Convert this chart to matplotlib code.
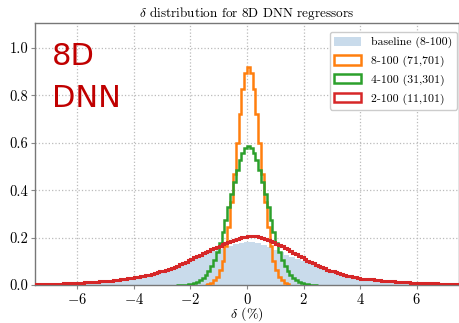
import numpy as np
import matplotlib
matplotlib.use("Agg")
import matplotlib.pyplot as plt
from matplotlib.patches import Patch

plt.rcParams['font.family'] = 'cmr10'
plt.rcParams['mathtext.fontset'] = 'cm'
plt.rcParams['axes.formatter.use_mathtext'] = True

# ---------------- data (density histograms) ----------------
# orange: 8-100 (71,701), bins of 0.1 from -1.5 to 1.5
orange_edges = np.round(np.linspace(-1.5, 1.5, 31), 2)
orange_vals = [0.002, 0.005, 0.010, 0.019, 0.035, 0.062, 0.103, 0.163, 0.245, 0.348,
               0.468, 0.597, 0.722, 0.826, 0.895, 0.920, 0.895, 0.826, 0.722, 0.597,
               0.468, 0.348, 0.245, 0.163, 0.103, 0.062, 0.035, 0.019, 0.010, 0.005]

# green: 4-100 (31,301), bins of 0.1 from -2.5 to 2.5
green_edges = np.round(np.linspace(-2.5, 2.5, 51), 2)
green_vals = [0.0004, 0.0007, 0.001, 0.002, 0.003, 0.005, 0.008, 0.013, 0.019, 0.028,
              0.041, 0.058, 0.079, 0.106, 0.140, 0.179, 0.224, 0.274, 0.327, 0.382,
              0.435, 0.484, 0.526, 0.558, 0.578, 0.585, 0.578, 0.558, 0.526, 0.484,
              0.435, 0.382, 0.327, 0.274, 0.224, 0.179, 0.140, 0.106, 0.079, 0.058,
              0.041, 0.028, 0.019, 0.013, 0.008, 0.005, 0.003, 0.002, 0.001, 0.0007]

# red: 2-100 (11,101); 0.25-wide bins in the tails, 0.1-wide bins in [-4, 4]
red_edges = np.round(np.concatenate([np.linspace(-7.5, -4.25, 14),
                                     np.linspace(-4.0, 3.9, 80),
                                     np.linspace(4.0, 7.5, 15)]), 3)
red_vals = [0.004, 0.005, 0.005, 0.006, 0.007, 0.008, 0.010, 0.011, 0.013, 0.015,
            0.018, 0.021, 0.025, 0.029,
            0.032, 0.034, 0.036, 0.039, 0.041, 0.044, 0.047, 0.050, 0.053, 0.057,
            0.061, 0.064, 0.068, 0.072, 0.077, 0.082, 0.087, 0.093, 0.099, 0.105,
            0.111, 0.117, 0.122, 0.128, 0.134, 0.139, 0.145, 0.150, 0.156, 0.161,
            0.166, 0.171, 0.176, 0.181, 0.186, 0.190, 0.194, 0.198, 0.201, 0.203,
            0.205, 0.206, 0.206, 0.205, 0.203, 0.200, 0.196, 0.191, 0.186, 0.181,
            0.175, 0.169, 0.163, 0.157, 0.150, 0.144, 0.137, 0.130, 0.123, 0.116,
            0.110, 0.103, 0.097, 0.091, 0.085, 0.080, 0.075, 0.070, 0.065, 0.061,
            0.057, 0.053, 0.049, 0.046, 0.043, 0.040, 0.037, 0.035, 0.032, 0.030,
            0.027, 0.024, 0.021, 0.018, 0.016, 0.014, 0.012, 0.010, 0.009, 0.008,
            0.007, 0.006, 0.005, 0.004]

# baseline (8-100), bins of 0.2 from -7.5 to 7.5
base_edges = np.round(np.linspace(-7.5, 7.5, 76), 2)
base_vals = [0.003, 0.003, 0.004, 0.004, 0.005, 0.006, 0.007, 0.008, 0.009, 0.011,
             0.012, 0.014, 0.016, 0.018, 0.020, 0.023, 0.026, 0.030, 0.034, 0.039,
             0.045, 0.051, 0.058, 0.066, 0.075, 0.085, 0.096, 0.106, 0.116, 0.126,
             0.135, 0.143, 0.150, 0.158, 0.166, 0.173, 0.179, 0.182, 0.181, 0.177,
             0.169, 0.159, 0.149, 0.139, 0.128, 0.118, 0.109, 0.100, 0.092, 0.085,
             0.075, 0.065, 0.056, 0.048, 0.041, 0.035, 0.030, 0.026, 0.023, 0.020,
             0.018, 0.016, 0.014, 0.013, 0.011, 0.010, 0.009, 0.008, 0.007, 0.006,
             0.006, 0.005, 0.004, 0.004, 0.003]

labels = ["baseline (8-100)", "8-100 (71,701)", "4-100 (31,301)", "2-100 (11,101)"]
title = r"$\delta$ distribution for 8D DNN regressors"
xlabel = r"$\delta$ (%)"
xticks = [-6, -4, -2, 0, 2, 4, 6]
yticks = [0.0, 0.2, 0.4, 0.6, 0.8, 1.0]

# ---------------- figure ----------------
W, H = 459, 323
fig = plt.figure(figsize=(W / 100, H / 100), dpi=100)
ax = fig.add_axes([35 / W, 38 / H, 424 / W, 262 / H])

c_base = '#c9dbeb'
c_or = '#ff7f0e'
c_gr = '#2ca02c'
c_rd = '#d62728'

ax.stairs(base_vals, base_edges, fill=True, color=c_base, zorder=1)
ax.stairs(orange_vals, orange_edges, color=c_or, lw=1.8, zorder=3)
ax.stairs(green_vals, green_edges, color=c_gr, lw=1.8, zorder=3)
ax.stairs(red_vals, red_edges, color=c_rd, lw=2.2, zorder=4)

ax.set_xlim(-7.5, 7.5)
ax.set_ylim(0, 1.105)
ax.set_xticks(xticks)
ax.set_yticks(yticks)
ax.set_yticklabels([f"{v:.1f}" for v in yticks])
ax.tick_params(labelsize=10.5, length=3, color='#888888', pad=2)
ax.grid(True, linestyle=':', color='#bbbbbb', linewidth=0.9, zorder=0)
ax.set_axisbelow(True)
for s in ax.spines.values():
    s.set_color('#777777')
    s.set_linewidth(1.0)

ax.set_title(title, fontsize=9.5, pad=4)
ax.set_xlabel(xlabel, fontsize=10, labelpad=-1)

handles = [Patch(facecolor=c_base, edgecolor='none'),
           Patch(facecolor='white', edgecolor=c_or, lw=1.8),
           Patch(facecolor='white', edgecolor=c_gr, lw=1.8),
           Patch(facecolor='white', edgecolor=c_rd, lw=1.8)]
leg = ax.legend(handles, labels, loc='upper right', fontsize=8.5,
                bbox_to_anchor=(0.995, 0.966), borderaxespad=0.0,
                handlelength=2.3, handleheight=0.8, labelspacing=0.6,
                fancybox=True, framealpha=1, edgecolor='#cccccc')

ax.text(0.040, 0.84, "8D", transform=ax.transAxes, fontsize=22,
        family='DejaVu Sans', color='#c00000', va='baseline')
ax.text(0.040, 0.679, "DNN", transform=ax.transAxes, fontsize=22,
        family='DejaVu Sans', color='#c00000', va='baseline')

fig.savefig("out.png", dpi=100)
